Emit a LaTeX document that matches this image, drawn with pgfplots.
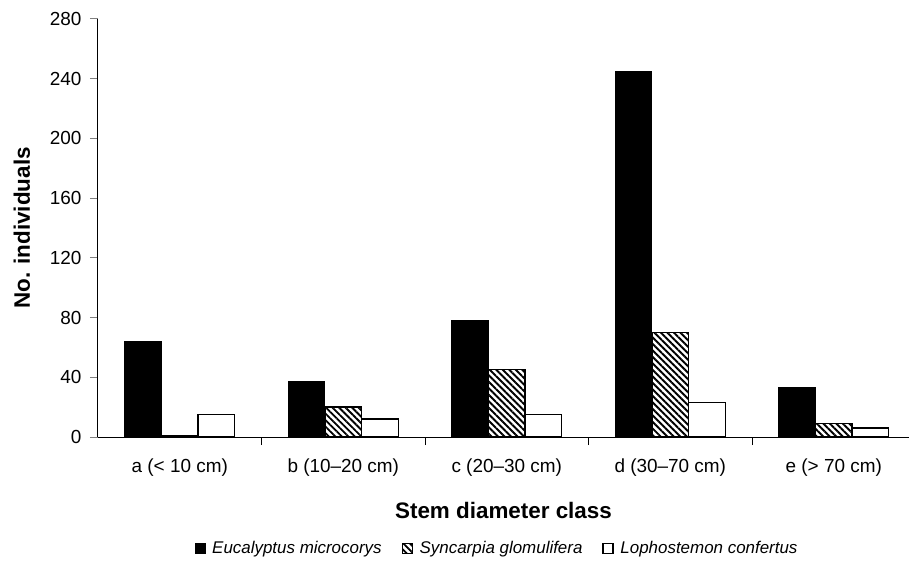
\documentclass[border=0pt]{standalone}
\usepackage{fontspec}
\setmainfont{Liberation Sans}
\usepackage{pgfplots}
\pgfplotsset{compat=1.18}
\usetikzlibrary{patterns.meta}
\pgfplotstableread{
x euc syn lop
0 64 1 15
1 37 20 12
2 78 45 15
3 245 70 23
4 33 9 6
}\datatable
\begin{document}
\begin{tikzpicture}
\useasboundingbox (-98bp,-126bp) rectangle (811bp,437bp);
\begin{axis}[
  at={(0,0)}, anchor=south west,
  scale only axis, width=811bp, height=418bp,
  xmin=-0.5, xmax=4.46, ymin=0, ymax=280,
  ybar=0pt, bar width=36.7bp,
  axis x line=bottom, axis y line=left,
  axis line style={-, line width=1bp},
  ytick={0,40,...,280},
  xtick={0,1,2,3,4},
  xticklabels={a (< 10 cm),b (10--20 cm),c (20--30 cm),d (30--70 cm),e (> 70 cm)},
  minor xtick={0.5,1.5,2.5,3.5},
  tick align=outside,
  major tick length=8bp, minor tick length=8bp,
  x tick style={draw=none},
  minor x tick style={draw=black, line width=1bp},
  y tick style={line width=1bp},
  tick label style={font=\fontsize{19}{21}\selectfont},
  /pgf/number format/assume math mode=true,
  yticklabel style={xshift=-5bp},
  xticklabel style={yshift=-10bp},
  xlabel={\bfseries Stem diameter class},
  ylabel={\bfseries No. individuals},
  label style={font=\fontsize{22.5}{26}\selectfont},
  xlabel style={at={(axis description cs:0.5,0)}, anchor=center, yshift=-73bp},
  ylabel style={anchor=center},
  every axis y label/.append style={at={(axis description cs:-0.094,0.5)}},
  legend style={at={(axis description cs:0.492,-0.266)}, anchor=center, draw=none,
    font=\fontsize{17}{19}\selectfont\itshape, legend columns=3,
    /tikz/every even column/.append style={column sep=18bp}},
  legend image code/.code={\draw[#1] (0bp,-5bp) rectangle (10bp,5bp);},
  clip=false,
]
\addplot[draw=black, fill=black, line width=1bp] table[x=x,y=euc] {\datatable};
\addplot[draw=black, line width=1.3bp, pattern={Lines[angle=-45,distance=4.6bp,line width=1.9bp]}] table[x=x,y=syn] {\datatable};
\addplot[draw=black, fill=white, line width=1.3bp] table[x=x,y=lop] {\datatable};
\legend{\ Eucalyptus microcorys, \ Syncarpia glomulifera, \ Lophostemon confertus}
\end{axis}
\end{tikzpicture}
\end{document}
